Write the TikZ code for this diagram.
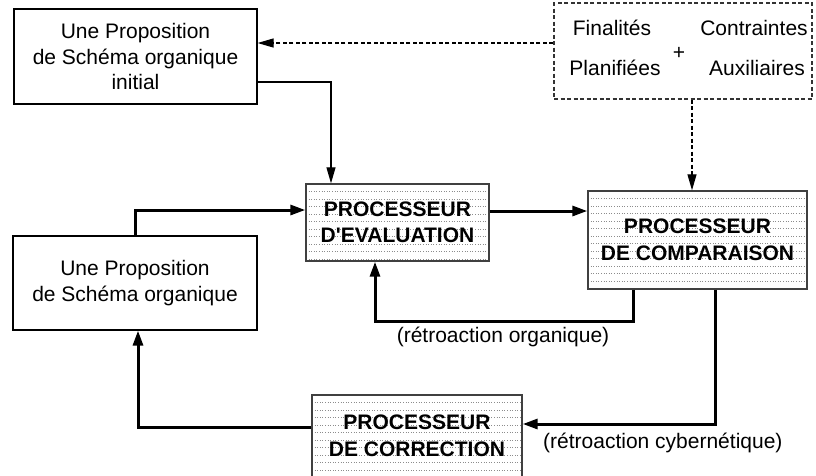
\documentclass[tikz,border=0pt]{standalone}
\usepackage{fontspec}
\setmainfont{Liberation Sans}
\usepackage{xcolor}
\usepackage{tikz}
\usetikzlibrary{positioning, arrows.meta}

\begin{document}
\begin{tikzpicture}[
  x=1pt, y=-1pt,
  every node/.style={inner sep=2pt, font=\fontsize{21}{25.5}\selectfont},
  propbox/.style={draw, line width=1.2pt, align=center},
  procbox/.style={draw=black!75, line width=1.4pt, align=center,
    font=\fontsize{21}{26.5}\selectfont\bfseries,
    path picture={
      \foreach \k in {1,...,14}
        \draw[gray!90, line width=0.6pt, dash pattern=on 1pt off 1.6pt]
          ([yshift=-\k*7.5pt]path picture bounding box.north west) -- ++(400pt,0);
    }},
  objbox/.style={draw=black!80, line width=1.1pt, dash pattern=on 4pt off 2.5pt},
  lbl/.style={inner sep=0pt},
  thin arrow/.style={-{Triangle[length=16pt, width=9pt]}, line width=1.2pt},
  dash arrow/.style={thin arrow, dash pattern=on 4pt off 2.5pt},
  thick arrow/.style={-{Triangle[length=15pt, width=10pt]}, line width=3pt}
]
\useasboundingbox (0,0) rectangle (816,475);

% Boxes
\node[propbox, minimum width=243pt, minimum height=95pt] (init) at (135.5,56.5)
  {Une Proposition\\de Schéma organique\\initial};
\node[propbox, minimum width=244pt, minimum height=94pt] (prop) at (135,283)
  {Une Proposition\\de Schéma organique};
\node[procbox, minimum width=183pt, minimum height=77pt] (eval) at (397.5,222.5)
  {PROCESSEUR\\D\textquotesingle EVALUATION};
\node[procbox, minimum width=219pt, minimum height=98pt] (comp) at (697.5,240)
  {PROCESSEUR\\DE COMPARAISON};
\node[procbox, minimum width=210pt, minimum height=82pt] (corr) at (417,436)
  {PROCESSEUR\\DE CORRECTION};
\node[objbox, minimum width=258pt, minimum height=96pt] (obj) at (683,51) {};

% Contents of the dashed box
\node[lbl] (fin) at (612,28) {Finalités};
\node[lbl] (plan) at (615,68) {Planifiées};
\node[lbl] (plus) at (679,53) {+};
\node[lbl] (contr) at (754,28) {Contraintes};
\node[lbl] (aux) at (757,68) {Auxiliaires};

% Connectors
\draw[dash arrow] ([yshift=8pt]obj.west) -- ([yshift=8pt]obj.west -| init.east);
\draw[dash arrow] ([xshift=9pt]obj.south) -- ([xshift=9pt]obj.south |- comp.north);
\draw[thin arrow] ([yshift=-25.5pt]init.east) -| ([xshift=-66.5pt]eval.north);
\draw[thick arrow] (prop.north) |- ([yshift=12.5pt]eval.west);
\draw[thick arrow] ([yshift=11.5pt]eval.east) -- ([yshift=11.5pt]eval.east -| comp.west);
\draw[thick arrow] ([xshift=-64.5pt]comp.south) -- ++(0,32) -| ([xshift=-22.5pt]eval.south);
\draw[thick arrow] ([xshift=17.5pt]comp.south) |- ([yshift=12pt]corr.east);
\draw[thick arrow] ([yshift=9pt]corr.west) -| ([xshift=3pt]prop.south);

% Feedback labels
\node[lbl] (l_org) at (503,337) {(rétroaction organique)};
\node[lbl, anchor=west] (l_cyb) at (543,443) {(rétroaction cybernétique)};

\end{tikzpicture}
\end{document}
